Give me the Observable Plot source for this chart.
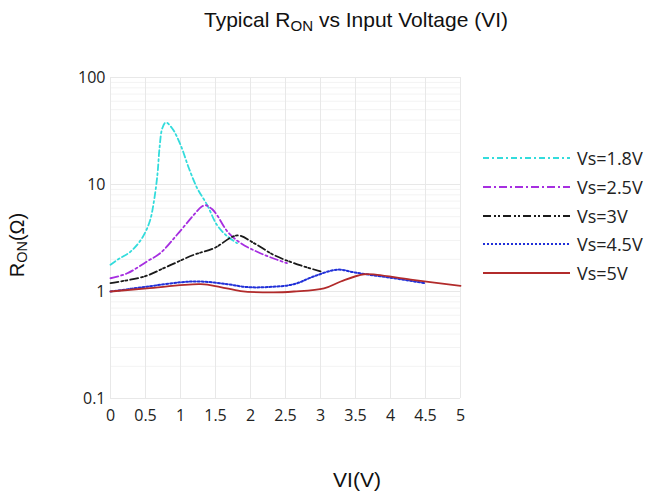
<!DOCTYPE html>
<html>
<head>
<meta charset="utf-8">
<script src="https://cdn.jsdelivr.net/npm/d3@7"></script>
<script src="https://cdn.jsdelivr.net/npm/@observablehq/plot@0.6"></script>
<style>
  body { margin: 0; background: #fff; }
  #wrap { position: relative; width: 651px; height: 497px; overflow: hidden; background: #fff; }
  #title { height: 40px; line-height: 40px; box-sizing: border-box; padding-left: 61px; text-align: center;
           font-family: "Liberation Sans", Arial, sans-serif; font-size: 21px; color: #111; }
  #title sub, #ylab sub { font-size: 0.72em; vertical-align: -0.25em; }
  #ylab { position: absolute; left: 18px; top: 245px; transform: translate(-50%, -50%) rotate(-90deg);
          font-family: "Liberation Sans", Arial, sans-serif; font-size: 20px; color: #111; white-space: nowrap; }
  #xlab { position: absolute; left: 357px; top: 480px; transform: translate(-50%, -50%);
          font-family: "Liberation Sans", Arial, sans-serif; font-size: 21px; color: #111; white-space: nowrap; }
  #legend { position: absolute; left: 483px; top: 144px; font-family: "Open Sans", sans-serif; font-size: 18px; color: #222; }
  .item { height: 28.7px; display: flex; align-items: center; }
  .item svg { margin-right: 7px; }
</style>
</head>
<body>
<div id="wrap">
  <div id="title">Typical R<sub>ON</sub> vs Input Voltage (VI)</div>
  <div id="chart"></div>
  <div id="ylab">R<sub>ON</sub>(Ω)</div>
  <div id="xlab">VI(V)</div>
  <div id="legend"></div>
</div>
<script>
// Series names
const seriesNames = ["Vs=1.8V", "Vs=2.5V", "Vs=3V", "Vs=4.5V", "Vs=5V"];

// Vs = 1.8V
const vi18 = [0, 0.1, 0.29, 0.45, 0.56, 0.62, 0.67, 0.7, 0.74, 0.79, 0.88, 1.0, 1.12, 1.24, 1.38, 1.52, 1.67, 1.81];
const r18  = [1.78, 1.98, 2.37, 3.15, 4.51, 6.94, 12.3, 21.8, 33.6, 38, 33.6, 23.5, 14.2, 9.2, 6.46, 4.2, 3.27, 2.83];
// Vs = 2.5V
const vi25 = [0, 0.24, 0.52, 0.71, 0.95, 1.19, 1.3, 1.36, 1.45, 1.52, 1.67, 1.86, 2.14, 2.38, 2.52];
const r25  = [1.33, 1.48, 1.91, 2.28, 3.39, 5.2, 6.2, 6.4, 5.9, 5.2, 3.64, 2.83, 2.28, 1.98, 1.84];
// Vs = 3V
const vi3 = [0, 0.48, 0.81, 1.19, 1.48, 1.81, 2.05, 2.33, 2.62, 3.0];
const r3  = [1.2, 1.38, 1.71, 2.2, 2.54, 3.34, 2.83, 2.2, 1.84, 1.54];
// Vs = 4.5V
const vi45 = [0, 0.52, 1.0, 1.29, 1.67, 1.95, 2.24, 2.62, 2.9, 3.24, 3.48, 3.71, 4.05, 4.48];
const r45  = [1.0, 1.11, 1.22, 1.24, 1.17, 1.1, 1.1, 1.17, 1.38, 1.6, 1.51, 1.43, 1.33, 1.2];
// Vs = 5V
const vi5 = [0, 0.52, 1.29, 1.57, 1.86, 2.33, 2.62, 3.05, 3.29, 3.62, 3.81, 4.29, 5.0];
const r5  = [1.0, 1.07, 1.17, 1.1, 1.01, 0.98, 1.0, 1.07, 1.24, 1.45, 1.43, 1.29, 1.13];

// Ticks
const xTicks = [0, 0.5, 1, 1.5, 2, 2.5, 3, 3.5, 4, 4.5, 5];
const yTicks = [0.1, 1, 10, 100];
const yMinor = [0.2, 0.3, 0.4, 0.5, 0.6, 0.7, 0.8, 0.9, 2, 3, 4, 5, 6, 7, 8, 9, 20, 30, 40, 50, 60, 70, 80, 90];

const xs = [vi18, vi25, vi3, vi45, vi5];
const ys = [r18, r25, r3, r45, r5];
const styles = [
  {stroke: "#33dcdc", dash: "6,3,2,3", width: 1.8},
  {stroke: "#a62fe0", dash: "8,3,2,3", width: 1.8},
  {stroke: "#1a1a1a", dash: "8,3,2,2,2,3", width: 1.8},
  {stroke: "#2130d8", dash: "2,2", width: 2},
  {stroke: "#b22b2b", dash: null, width: 1.8}
];

const lines = seriesNames.map((name, i) => {
  const data = xs[i].map((x, j) => ({x, y: ys[i][j]}));
  const st = styles[i];
  return Plot.line(data, {x: "x", y: "y", stroke: st.stroke, strokeWidth: st.width,
    strokeDasharray: st.dash || undefined, curve: "catmull-rom"});
});

const chart = Plot.plot({
  width: 651,
  height: 457,
  marginLeft: 110,
  marginRight: 191,
  marginTop: 37,
  marginBottom: 99,
  style: {fontFamily: "'Open Sans', sans-serif", fontSize: "16px", color: "#222", background: "transparent"},
  x: {domain: [0, 5], ticks: xTicks, tickSize: 0, tickPadding: 11, label: null, tickFormat: d => String(d)},
  y: {type: "log", domain: [0.1, 100], ticks: yTicks, tickSize: 0, tickPadding: 5, label: null,
      tickFormat: d => String(d)},
  marks: [
    Plot.ruleY(yMinor, {stroke: "#f3f3f3", strokeWidth: 1}),
    Plot.ruleY(yTicks, {stroke: "#e8e8e8", strokeWidth: 1}),
    Plot.ruleX(xTicks, {stroke: "#e8e8e8", strokeWidth: 1}),
    ...lines
  ]
});
document.getElementById("chart").appendChild(chart);

// Legend
const legend = document.getElementById("legend");
seriesNames.forEach((name, i) => {
  const st = styles[i];
  const item = document.createElement("div");
  item.className = "item";
  item.innerHTML = `<svg width="87" height="10"><line x1="0" x2="87" y1="5" y2="5" stroke="${st.stroke}" stroke-width="${st.width}" ${st.dash ? `stroke-dasharray="${st.dash}"` : ""}></line></svg><span>${name}</span>`;
  legend.appendChild(item);
});
</script>
</body>
</html>
